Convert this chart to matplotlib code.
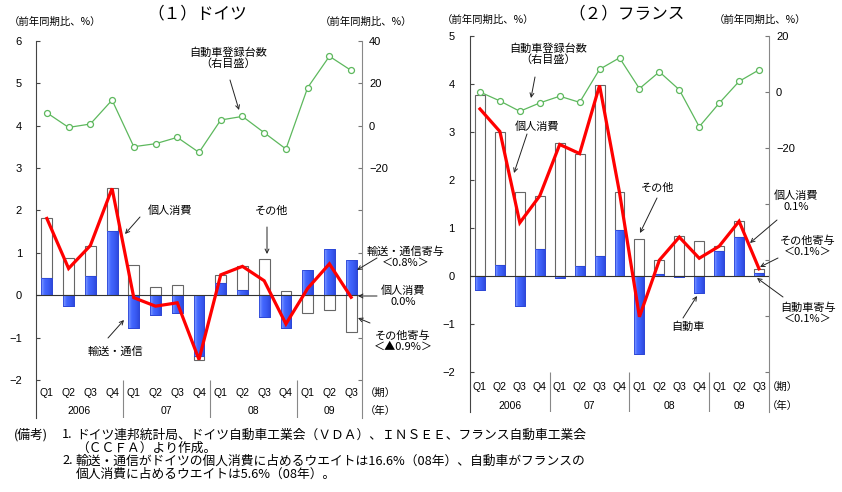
import numpy as np
import matplotlib
matplotlib.use("Agg")
import matplotlib.pyplot as plt
from matplotlib.colors import LinearSegmentedColormap

plt.rcParams['font.family'] = ['Liberation Sans', 'Noto Sans CJK JP', 'DejaVu Sans']
JP = ['Noto Sans CJK JP', 'DejaVu Sans']

# =========================
# DATA
# =========================
quarters = ["Q1", "Q2", "Q3", "Q4"] * 3 + ["Q1", "Q2", "Q3"]
years = ["2006", "07", "08", "09"]
year_centers = [1.5, 5.5, 9.5, 13.0]

# Germany: private consumption (yoy %), transport & communication contribution, car registrations (yoy %)
ger_total = [1.81, 0.63, 1.17, 2.52, -0.06, -0.26, -0.18, -1.52, 0.48, 0.68, 0.34, -0.68, 0.16, 0.74, -0.05]
ger_transport = [0.41, -0.25, 0.46, 1.52, -0.77, -0.46, -0.43, -1.43, 0.29, 0.12, -0.51, -0.77, 0.59, 1.09, 0.83]
ger_cars = [6.1, -0.8, 0.8, 12.1, -9.9, -8.5, -5.5, -12.6, 2.7, 4.4, -3.3, -11.0, 18.0, 32.8, 26.1]

# France: private consumption (yoy %), automobile contribution, car registrations (yoy %)
fra_total = [3.48, 3.01, 1.11, 1.67, 2.74, 2.55, 3.97, 1.74, -0.85, 0.33, 0.81, 0.37, 0.62, 1.14, 0.15]
fra_auto = [-0.30, 0.23, -0.63, 0.56, -0.04, 0.20, 0.42, 0.96, -1.63, 0.05, -0.03, -0.35, 0.52, 0.81, 0.06]
fra_cars = [0.0, -3.2, -6.9, -3.9, -1.5, -3.7, 8.1, 12.2, 1.2, 7.2, 0.8, -12.4, -4.0, 3.8, 7.9]

BLUE_EDGE = "#2b46d6"
GREEN = "#5db85d"
W, H = 842, 492
blue_cmap = LinearSegmentedColormap.from_list("barblue", ["#86a0ff", "#4468ff", "#3a5cf4", "#2f4be0"])


def px_axes(fig, left, top, right, bottom):
    return fig.add_axes([left / W, 1 - bottom / H, (right - left) / W, (bottom - top) / H])


def panel(fig, box, ylim, ylim2, yticks, r_ticks, r_labels, total, contrib, cars,
          lpad, qy, yy, lab_x):
    ax = px_axes(fig, *box)
    ax2 = ax.twinx()
    x = np.arange(len(total))
    total = np.array(total)
    contrib = np.array(contrib)
    other = total - contrib
    bottoms = np.where(contrib * other > 0, contrib, 0.0)

    bars = ax.bar(x, contrib, width=0.5, color="#4468ff", edgecolor=BLUE_EDGE, lw=0.6, zorder=2)
    grad = np.linspace(0, 1, 32).reshape(1, -1)
    for b in bars:
        x0, y0 = b.get_x(), b.get_y()
        im = ax.imshow(grad, extent=[x0, x0 + b.get_width(), y0, y0 + b.get_height()],
                       aspect="auto", cmap=blue_cmap, origin="lower", zorder=2.1)
        im.set_clip_path(b)
    ax.bar(x, contrib, width=0.5, fill=False, edgecolor=BLUE_EDGE, lw=0.6, zorder=2.2)
    ax.bar(x, other, bottom=bottoms, width=0.5, facecolor="white", edgecolor="#666",
           lw=0.8, zorder=2)
    ax.axhline(0, color="#333", lw=0.8, zorder=3)
    ax.plot(x, total, color="red", lw=2.3, zorder=5, solid_joinstyle="miter")

    ax2.plot(x, cars, color=GREEN, lw=0.9, marker="o", ms=4.3, mfc="white",
             mec=GREEN, mew=0.9, zorder=4)

    ax.set_xlim(-0.5, len(total) - 0.5)
    ax.set_ylim(*ylim)
    ax2.set_ylim(*ylim2)
    ax.set_xticks([])
    ax.set_yticks(yticks)
    ax.set_yticklabels([str(v).replace("-", "−") for v in yticks])
    ax2.set_yticks(r_ticks)
    ax2.set_yticklabels(r_labels)
    ax.tick_params(axis="y", direction="in", length=3, pad=lpad, labelsize=8, color="#444")
    ax2.tick_params(axis="y", direction="in", length=3, pad=5, labelsize=8, color="#777")

    for a in (ax, ax2):
        a.spines["top"].set_visible(False)
        a.spines["bottom"].set_visible(False)
    ax.spines["left"].set_color("#444")
    ax2.spines["left"].set_visible(False)
    ax2.spines["right"].set_color("#888")
    ax.spines["right"].set_visible(False)

    ax.vlines([3.5, 7.5, 11.5], ylim[0], yticks[0], color="#888", lw=0.8)
    for i, q in enumerate(quarters):
        ax.text(i, qy, q, ha="center", va="center", fontsize=7.5, clip_on=False)
    for c, yr in zip(year_centers, years):
        ax.text(c, yy, yr, ha="center", va="center", fontsize=7.5, clip_on=False)
    ax.text(lab_x, qy, "（期）", ha="center", va="center", fontsize=7.5, family=JP, clip_on=False)
    ax.text(lab_x, yy, "（年）", ha="center", va="center", fontsize=7.5, family=JP, clip_on=False)
    return ax, ax2


fig = plt.figure(figsize=(W / 100, H / 100), dpi=100)

# Germany
g_ticks2 = list(range(-120, 41, 20))
g_labels2 = [str(v).replace("-", "−") if v >= -20 else "" for v in g_ticks2]
panel(fig, (36, 41, 362, 418), (-2.9, 6), (-138, 40), list(range(-2, 7)),
      g_ticks2, g_labels2, ger_total, ger_transport, ger_cars,
      lpad=10, qy=-2.31, yy=-2.74, lab_x=15.33)

# France
f_ticks2 = list(range(-100, 21, 20))
f_labels2 = [str(v).replace("-", "−") if v >= -20 else "" for v in f_ticks2]
panel(fig, (470, 36, 769, 412), (-2.833, 5), (-114.3, 20), list(range(-2, 6)),
      f_ticks2, f_labels2, fra_total, fra_auto, fra_cars,
      lpad=11, qy=-2.31, yy=-2.71, lab_x=15.15)

# overlay for annotations, in pixel coordinates
ov = fig.add_axes([0, 0, 1, 1], zorder=10)
ov.set_xlim(0, W)
ov.set_ylim(H, 0)
ov.axis("off")
ov.patch.set_alpha(0)


def note(text, pos, size=8):
    ov.text(pos[0], pos[1], text, ha="center", va="center", fontsize=size,
            family=JP, linespacing=1.05)


def arrow(start, end):
    ov.annotate("", xy=end, xytext=start,
                arrowprops=dict(arrowstyle="->", lw=0.7, color="#222",
                                shrinkA=0, shrinkB=0, mutation_scale=7))


# titles and axis units
note("（１）ドイツ", (197, 14), 12)
note("（２）フランス", (627, 14), 12)
for xc, yc in [(55, 22), (366, 22), (488, 20), (760, 20)]:
    note("（前年同期比、%）", (xc, yc), 7.5)

# Germany annotations
note("自動車登録台数\n（右目盛）", (228, 58))
arrow((230, 80), (239, 110))
note("個人消費", (170, 211))
arrow((140, 217), (125, 234))
note("その他", (272, 211))
arrow((267, 227), (267, 254))
note("輸送・通信", (115, 352))
arrow((108, 338), (124, 320))
note("輸送・通信寄与\n＜0.8%＞", (406, 257))
arrow((377, 258), (357, 270))
note("個人消費\n0.0%", (403, 296))
arrow((377, 296), (358, 296))
note("その他寄与\n＜▲0.9%＞", (403, 341))
arrow((370, 323), (358, 318))

# France annotations
note("自動車登録台数\n（右目盛）", (548, 54))
arrow((535, 77), (531, 98))
note("個人消費", (537, 127))
arrow((527, 134), (514, 173))
note("その他", (658, 188))
arrow((657, 198), (640, 233))
note("自動車", (688, 327))
arrow((683, 318), (697, 296))
note("個人消費\n0.1%", (796, 201))
arrow((777, 220), (750, 243))
note("その他寄与\n＜0.1%＞", (808, 246))
arrow((778, 258), (760, 267))
note("自動車寄与\n＜0.1%＞", (808, 313))
arrow((783, 297), (757, 278))

# footnote
foot = [
    (14, 435, "(備考)"),
    (62, 435, "1."),
    (76, 435, "ドイツ連邦統計局、ドイツ自動車工業会（ＶＤＡ）、ＩＮＳＥＥ、フランス自動車工業会"),
    (76, 448, "（ＣＣＦＡ）より作成。"),
    (62, 461, "2."),
    (76, 461, "輸送・通信がドイツの個人消費に占めるウエイトは16.6%（08年）、自動車がフランスの"),
    (76, 474, "個人消費に占めるウエイトは5.6%（08年）。"),
]
for xx, yy, t in foot:
    ov.text(xx, yy, t, ha="left", va="center", fontsize=9.2, family=JP)

fig.savefig("out.png", dpi=100)
